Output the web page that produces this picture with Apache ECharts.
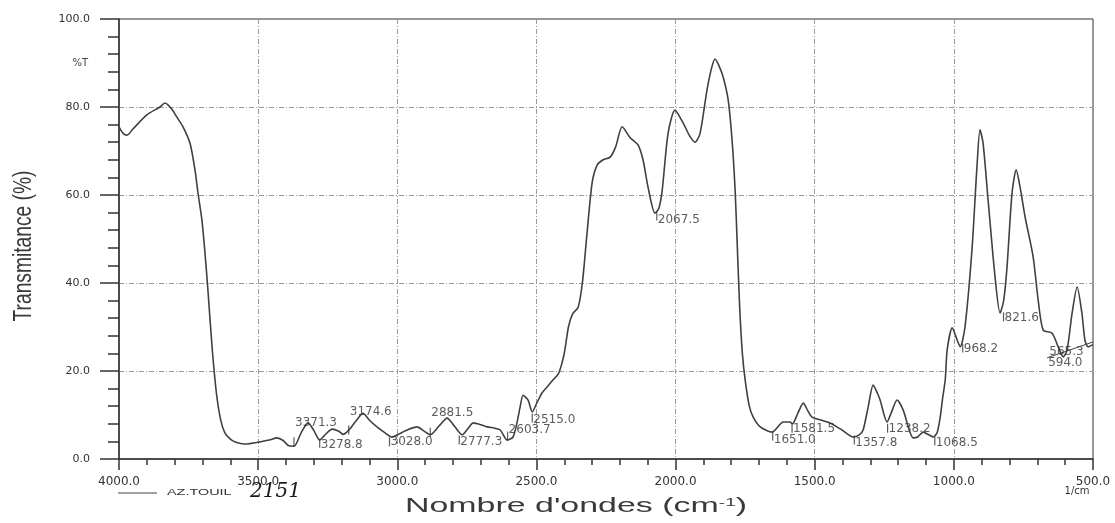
<!DOCTYPE html>
<html>
<head>
<meta charset="utf-8">
<script src="https://cdn.jsdelivr.net/npm/echarts@6/dist/echarts.min.js"></script>
<style>
html,body{margin:0;padding:0;background:#fff;}
#chart{width:1115px;height:523px;}
</style>
</head>
<body>
<div id="chart"></div>
<script>
// Spectrum: wavenumber (cm-1) and transmittance (%)
const wavenumbers = [4000,3985,3971,3950,3900,3853,3835,3810,3792,3770,3745,3727,3716,3702,3691,3680,3665,3650,3635,3620,3600,3580,3550,3520,3493,3460,3432,3410,3390,3371,3345,3321,3300,3279,3255,3234,3210,3195,3175,3150,3123,3100,3073,3045,3019,2990,2965,2929,2905,2882,2850,2821,2795,2767,2745,2727,2700,2677,2650,2630,2605,2584,2570,2558,2548,2530,2515,2498,2480,2460,2440,2420,2400,2385,2370,2350,2335,2318,2300,2282,2260,2235,2215,2192,2163,2135,2117,2099,2074,2060,2048,2027,2002,1973,1950,1930,1912,1887,1870,1858,1845,1829,1811,1797,1786,1779,1770,1760,1750,1735,1721,1696,1653,1613,1589,1580,1560,1541,1525,1510,1481,1445,1402,1362,1340,1326,1308,1290,1275,1265,1240,1225,1204,1182,1160,1146,1130,1110,1090,1074,1060,1049,1040,1031,1024,1006,988,977,960,935,917,906,895,877,852,834,821,809,791,776,762,744,715,697,679,647,625,607,593,575,557,540,529,518,500];
const transmittance = [75.5,74.0,73.6,75.0,78.2,80.0,80.9,79.5,77.7,75.5,71.8,65.7,60.4,54.3,46.8,38,25,15,9,6,4.5,3.8,3.4,3.6,3.9,4.3,4.8,4.2,3.0,2.9,6.0,8.2,6.5,4.3,5.8,6.8,6.3,5.6,6.5,8.5,10.4,8.8,7.3,6.0,5.0,5.8,6.6,7.3,6.4,5.5,7.5,9.3,7.5,5.5,7.0,8.2,7.8,7.3,7.0,6.6,4.3,5.0,8.2,12.0,14.5,13.4,10.7,12.8,15.0,16.5,18.0,19.5,24,30,33,34.5,40,51.4,62.7,66.8,68.0,68.6,71,75.5,73,71.4,68,61.8,55.9,57,61.1,74,79.3,76.4,73.5,72,74,83.9,89,90.9,89.5,86.8,81.6,72.5,61.1,49.8,35,24,18,12,9.5,7.3,6.1,8.4,8.4,8.0,10.5,12.7,11,9.5,8.9,8.2,6.6,5.0,5.5,6.6,11.8,16.8,15,13.4,8.4,10.5,13.4,11.1,6.5,4.8,5.0,6.1,5.5,5.0,6.0,9.5,14,18,24.8,29.8,27,25.5,30,47.5,66.4,74.8,71.8,58.9,41.4,33.2,36,43.6,60.4,65.7,61.8,55,45.9,36.1,29.3,28.6,25.5,23.2,24.8,33.2,39.1,33.2,27,25.5,26.0];

// Peak annotations
const peakNames = ["3371.3","3278.8","3174.6","3028.0","2881.5","2777.3","2603.7","2515.0","2067.5","1651.0","1581.5","1357.8","1238.2","1068.5","968.2","821.6","565.3","594.0"];
const peakWave  = [3371.3,3278.8,3174.6,3028.0,2881.5,2777.3,2603.7,2515.0,2067.5,1651.0,1581.5,1357.8,1238.2,1068.5,968.2,821.6,565.3,594.0];
const tickT     = [3.9,3.6,6.6,3.9,6.1,4.3,5.2,9.3,55.2,5.2,7.0,4.3,7.0,4.1,25.2,32.3,null,null];
const textWave  = [3371.3,3278.8,3174.6,3028.0,2881.5,2777.3,2603.7,2515.0,2067.5,1651.0,1581.5,1357.8,1238.2,1068.5,968.2,821.6,661,665];
const textT     = [8.2,3.2,10.7,3.9,10.5,3.9,6.6,8.9,54.3,4.3,6.8,3.6,6.8,3.6,25.0,32.0,24.3,21.8];

// Baseline segment drawn by the instrument near 565/594
const baseWave = [665,500];
const baseT = [23.0,26.6];

// Axis ticks
const xTicks = {min:500, max:4000, step:500};
const yTicks = {min:0, max:100, step:20};

const spectrum = wavenumbers.map((w,i)=>[w, transmittance[i]]);
const tickData = [];
peakWave.forEach((w,i)=>{ if (tickT[i] !== null) tickData.push([w, tickT[i]]); });
const labelData = textWave.map((w,i)=>[w, textT[i], peakNames[i]]);
const baseData = baseWave.map((w,i)=>[w, baseT[i]]);

const chart = echarts.init(document.getElementById('chart'), null, {renderer:'canvas'});
const axisCol = '#333';
const gridLine = {show:true, showMinLine:false, showMaxLine:false, lineStyle:{color:'#9a9a9a', width:1, type:[5,2,1,2]}};

chart.setOption({
  animation:false,
  backgroundColor:'#fff',
  grid:{left:119, right:22, top:19, bottom:64, show:true, borderColor:axisCol, borderWidth:1},
  xAxis:{
    type:'value', inverse:true, min:xTicks.min, max:xTicks.max, interval:xTicks.step,
    axisLine:{show:true, onZero:false, lineStyle:{color:axisCol, width:1.5}},
    axisTick:{show:true, length:11, lineStyle:{color:axisCol, width:1.5}},
    minorTick:{show:true, splitNumber:5, length:6, lineStyle:{color:axisCol, width:1.5}},
    axisLabel:{formatter:v=>v.toFixed(1), fontFamily:'DejaVu Sans', fontSize:12, color:'#333', margin:17},
    splitLine:gridLine,
    minorSplitLine:{show:false}
  },
  yAxis:{
    type:'value', min:yTicks.min, max:yTicks.max, interval:yTicks.step,
    axisLine:{show:true, onZero:false, lineStyle:{color:axisCol, width:1.5}},
    axisTick:{show:true, length:19, lineStyle:{color:axisCol, width:1.5}},
    minorTick:{show:true, splitNumber:5, length:11, lineStyle:{color:axisCol, width:1.5}},
    axisLabel:{formatter:v=>v.toFixed(1), fontFamily:'DejaVu Sans', fontSize:11, color:'#333', margin:29},
    splitLine:gridLine,
    minorSplitLine:{show:false}
  },
  series:[
    {type:'line', data:spectrum, smooth:0.25, symbol:'none', lineStyle:{color:'#404040', width:1.6}, z:3},
    {type:'line', data:baseData, symbol:'none', lineStyle:{color:'#404040', width:1}, z:3},
    {type:'scatter', data:tickData, symbol:'rect', symbolSize:[1.2,9], itemStyle:{color:'#333'}, z:4},
    {type:'scatter', data:labelData, symbolSize:0.1, itemStyle:{color:'transparent'},
      label:{show:true, position:'right', distance:1, formatter:p=>p.data[2], fontFamily:'DejaVu Sans', fontSize:12, color:'#333'}, z:5}
  ],
  graphic:[
    {type:'text', x:88, y:63, style:{text:'%T', font:'10px DejaVu Sans', fill:'#444', textAlign:'right', align:'right', textVerticalAlign:'middle', verticalAlign:'middle'}},
    {type:'text', x:24, y:246, rotation:Math.PI/2, scaleX:1.13, scaleY:1.48,
      style:{text:'Transmitance (%)', font:'17px "Liberation Sans", Arial, sans-serif', fill:'#3a3a3a', textAlign:'center', align:'center', textVerticalAlign:'middle', verticalAlign:'middle'}},
    {type:'text', x:576, y:507, scaleX:1.74, scaleY:1.0,
      style:{text:'{a|Nombre d\'ondes (cm}{s|-1}{a|)}', fill:'#3a3a3a', textAlign:'center', align:'center', textVerticalAlign:'middle', verticalAlign:'middle',
        rich:{a:{fontFamily:'Liberation Sans', fontSize:19.5, fill:'#3a3a3a', color:'#3a3a3a'}, s:{fontFamily:'Liberation Sans', fontSize:11, verticalAlign:'top', fill:'#3a3a3a', color:'#3a3a3a'}}}},
    {type:'line', shape:{x1:118, y1:493, x2:157, y2:493}, style:{stroke:'#444', lineWidth:1}},
    {type:'text', x:167, y:493, scaleX:1.6, style:{text:'AZ.TOUIL', font:'9px "Liberation Sans", Arial', fill:'#333', textAlign:'left', align:'left', textVerticalAlign:'middle', verticalAlign:'middle'}},
    {type:'text', x:250, y:492, style:{text:'2151', font:'italic 20px "DejaVu Serif", serif', fill:'#1a1a1a', textAlign:'left', align:'left', textVerticalAlign:'middle', verticalAlign:'middle'}},
    {type:'text', x:1077, y:491, style:{text:'1/cm', font:'10px DejaVu Sans', fill:'#333', textAlign:'center', align:'center', textVerticalAlign:'middle', verticalAlign:'middle'}}
  ]
});
</script>
</body>
</html>
